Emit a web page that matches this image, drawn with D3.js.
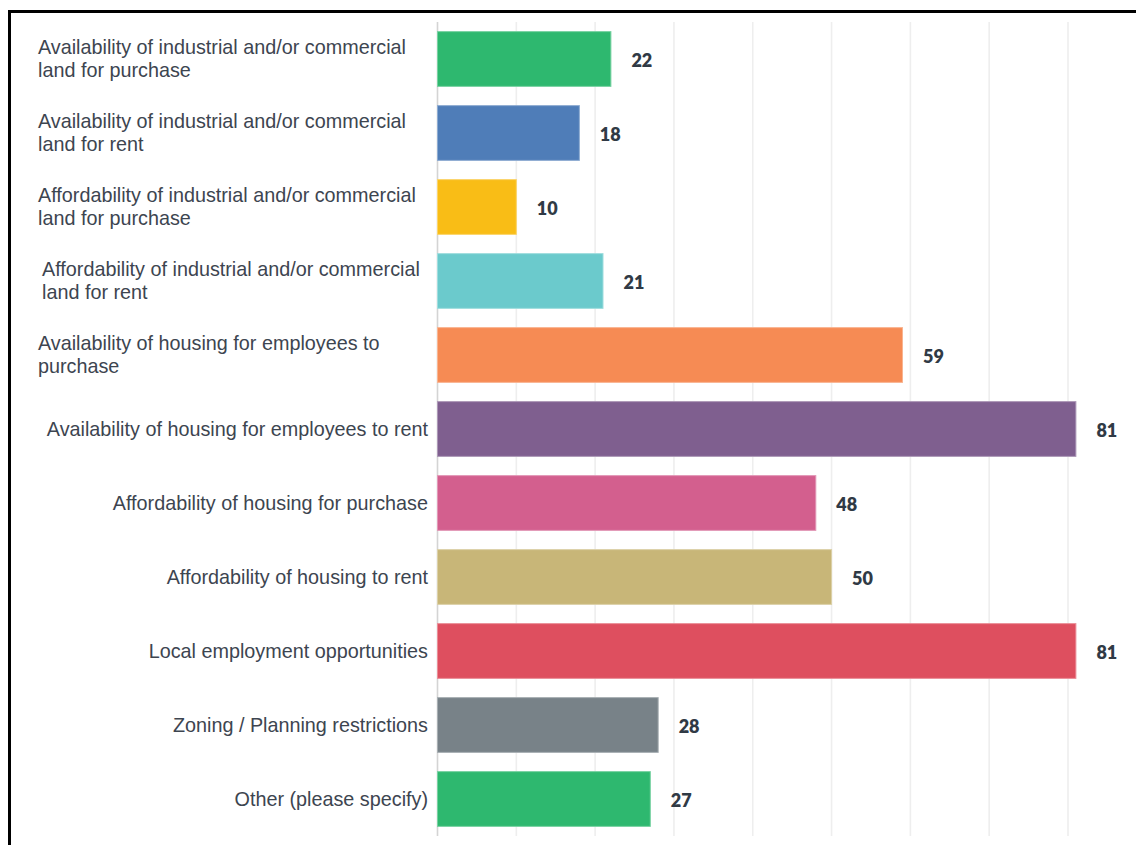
<!DOCTYPE html>
<html>
<head>
<meta charset="utf-8">
<script src="https://cdn.jsdelivr.net/npm/d3@7"></script>
<style>
  html, body { margin: 0; padding: 0; background: #fff; }
  svg { display: block; }
</style>
</head>
<body>
<svg id="chart" width="1136" height="845"></svg>
<script>
// Survey categories (each entry is the label split into its display lines)
const categories = [
  ["Availability of industrial and/or commercial", "land for purchase"],
  ["Availability of industrial and/or commercial", "land for rent"],
  ["Affordability of industrial and/or commercial", "land for purchase"],
  ["Affordability of industrial and/or commercial", "land for rent"],
  ["Availability of housing for employees to", "purchase"],
  ["Availability of housing for employees to rent"],
  ["Affordability of housing for purchase"],
  ["Affordability of housing to rent"],
  ["Local employment opportunities"],
  ["Zoning / Planning restrictions"],
  ["Other (please specify)"]
];
const values = [22, 18, 10, 21, 59, 81, 48, 50, 81, 28, 27];
const colors = ["#2eb86f", "#4f7db8", "#f9bd16", "#6bcacc", "#f68b54",
                "#7f5f8f", "#d35f8e", "#c8b678", "#de4f5f", "#788288", "#2eb86f"];
const xTicks = [0, 10, 20, 30, 40, 50, 60, 70, 80];

const svg = d3.select("#chart");
const W = 1136, H = 845;

const x = d3.scaleLinear().domain([0, 80]).range([437, 1067.5]);
const y = d3.scaleBand()
  .domain(d3.range(categories.length))
  .range([22, 836])
  .paddingInner(0.26)
  .paddingOuter(0.13);

// Frame lines on top and left
svg.append("rect").attr("x", 8).attr("y", 10).attr("width", W - 8).attr("height", 3).attr("fill", "#000");
svg.append("rect").attr("x", 8).attr("y", 10).attr("width", 3).attr("height", H - 10).attr("fill", "#000");

// Vertical gridlines
const gridAxis = d3.axisBottom(x).tickValues(xTicks).tickSize(836 - 22).tickFormat("");
const grid = svg.append("g").attr("transform", "translate(0,22)").call(gridAxis);
grid.select(".domain").remove();
grid.selectAll(".tick line")
  .attr("stroke", d => d === 0 ? "#d4d4d4" : "#eeeeee")
  .attr("stroke-width", 1.6);

// Bars
svg.append("g").selectAll("rect")
  .data(values)
  .join("rect")
  .attr("x", x(0) + 0.5)
  .attr("y", (d, i) => y(i))
  .attr("width", d => x(d) - x(0))
  .attr("height", y.bandwidth())
  .attr("fill", (d, i) => colors[i])
  .attr("stroke", (d, i) => d3.interpolateRgb(colors[i], "#fff")(0.35))
  .attr("stroke-width", 1);

// Value labels
svg.append("g").selectAll("text")
  .data(values)
  .join("text")
  .attr("x", d => x(d) + 21)
  .attr("y", (d, i) => y(i) + y.bandwidth() / 2 + 2)
  .attr("dy", "0.35em")
  .attr("font-family", "Lato, 'Open Sans', sans-serif")
  .attr("font-weight", 800)
  .attr("font-size", 18)
  .attr("fill", "#303a45")
  .text(d => d);

// Category labels: wrapped labels sit left-aligned, single lines right-aligned
const lineH = 23;
const lab = svg.append("g")
  .attr("font-family", "'Liberation Sans', Arial, sans-serif")
  .attr("font-size", 19.8)
  .attr("fill", "#3d4550");
categories.forEach((lines, i) => {
  const cy = y(i) + y.bandwidth() / 2;
  const multi = lines.length > 1;
  const t = lab.append("text")
    .attr("text-anchor", multi ? "start" : "end");
  lines.forEach((ln, j) => {
    t.append("tspan")
      .attr("x", multi ? (i === 3 ? 42 : 38) : 428)
      .attr("y", cy + (j - (lines.length - 1) / 2) * lineH)
      .attr("dy", "0.35em")
      .text(ln);
  });
});
</script>
</body>
</html>
